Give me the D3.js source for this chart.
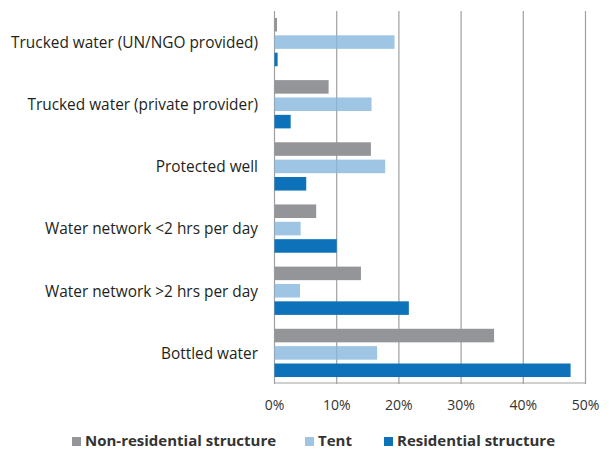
<!DOCTYPE html>
<html>
<head>
<meta charset="utf-8">
<script src="https://cdn.jsdelivr.net/npm/d3@7/dist/d3.min.js"></script>
<style>
    body { margin: 0; background: #fff; }
    svg { display: block; }
</style>
</head>
<body>
<svg width="610" height="449"></svg>
<script>
var categories = [
    'Trucked water (UN/NGO provided)',
    'Trucked water (private provider)',
    'Protected well',
    'Water network <2 hrs per day',
    'Water network >2 hrs per day',
    'Bottled water'
];
var seriesNames = ['Non-residential structure', 'Tent', 'Residential structure'];
var nonResidential = [0.4, 8.7, 15.5, 6.7, 13.9, 35.3];
var tent = [19.3, 15.6, 17.8, 4.2, 4.1, 16.5];
var residential = [0.5, 2.6, 5.1, 10.0, 21.6, 47.6];
var ticks = [0, 10, 20, 30, 40, 50];

var colors = ['#939598', '#87b6dd', '#0d72b9'];
var opac = [1, 0.8, 1];

var svg = d3.select('svg');
var plotLeft = 274, plotRight = 585, plotTop = 11, plotBottom = 384;

var x = d3.scaleLinear().domain([0, 50]).range([plotLeft, plotRight]);
var y = d3.scaleBand().domain(categories).range([plotTop, plotBottom]).paddingInner(0).paddingOuter(0);
var inner = d3.scaleBand().domain([0, 1, 2]).range([0, y.bandwidth()]).paddingInner(0.22).paddingOuter(0.4);

// grid
var grid = svg.append('g').attr('class', 'axis')
    .attr('transform', 'translate(0,' + plotBottom + ')')
    .call(d3.axisBottom(x).tickValues(ticks).tickSize(-(plotBottom - plotTop)).tickFormat(function (d) { return d + '%'; }));
grid.select('.domain').attr('stroke', '#a0a0a0').attr('d', 'M' + plotLeft + ',-1H' + plotRight);
grid.selectAll('.tick line').attr('stroke', '#a0a0a0').attr('stroke-width', 1.2);
grid.selectAll('.tick text')
    .attr('y', 16)
    .attr('font-family', 'Open Sans, sans-serif')
    .attr('font-size', '14px')
    .attr('fill', '#333');

var values = [nonResidential, tent, residential];
var rows = categories.map(function (c, i) {
    return values.map(function (v, s) { return {cat: c, s: s, v: v[i]}; });
});

var groups = svg.selectAll('g.cat')
    .data(rows)
    .enter()
    .append('g')
    .attr('class', 'cat')
    .attr('transform', function (d, i) { return 'translate(0,' + y(categories[i]) + ')'; });

groups.selectAll('rect')
    .data(function (d) { return d; })
    .enter()
    .append('rect')
    .attr('x', x(0) + 0.5)
    .attr('y', function (d) { return inner(d.s); })
    .attr('height', inner.bandwidth())
    .attr('width', function (d) { return x(d.v) - x(0); })
    .attr('fill', function (d) { return colors[d.s]; })
    .attr('fill-opacity', function (d) { return opac[d.s]; });

// category labels
svg.append('g')
    .selectAll('text')
    .data(categories)
    .enter()
    .append('text')
    .attr('x', 258)
    .attr('y', function (d) { return y(d) + y.bandwidth() / 2; })
    .attr('dy', '0.38em')
    .attr('text-anchor', 'end')
    .attr('font-family', 'Open Sans, sans-serif')
    .attr('font-size', '15.4px')
    .attr('fill', '#231f20')
    .text(function (d) { return d; });

// legend
var legendX = [72, 305, 384];
var legend = svg.append('g')
    .selectAll('g')
    .data(seriesNames)
    .enter()
    .append('g')
    .attr('transform', function (d, i) { return 'translate(' + legendX[i] + ',441)'; });

legend.append('rect')
    .attr('x', 0)
    .attr('y', -4)
    .attr('width', 9)
    .attr('height', 9)
    .attr('fill', function (d, i) { return i == 1 ? '#9fc5e4' : colors[i]; });

legend.append('text')
    .attr('x', 13)
    .attr('dy', '0.35em')
    .attr('font-family', 'Open Sans, sans-serif')
    .attr('font-weight', 'bold')
    .attr('font-size', '15px')
    .attr('fill', '#333')
    .text(function (d) { return d; });
</script>
</body>
</html>
